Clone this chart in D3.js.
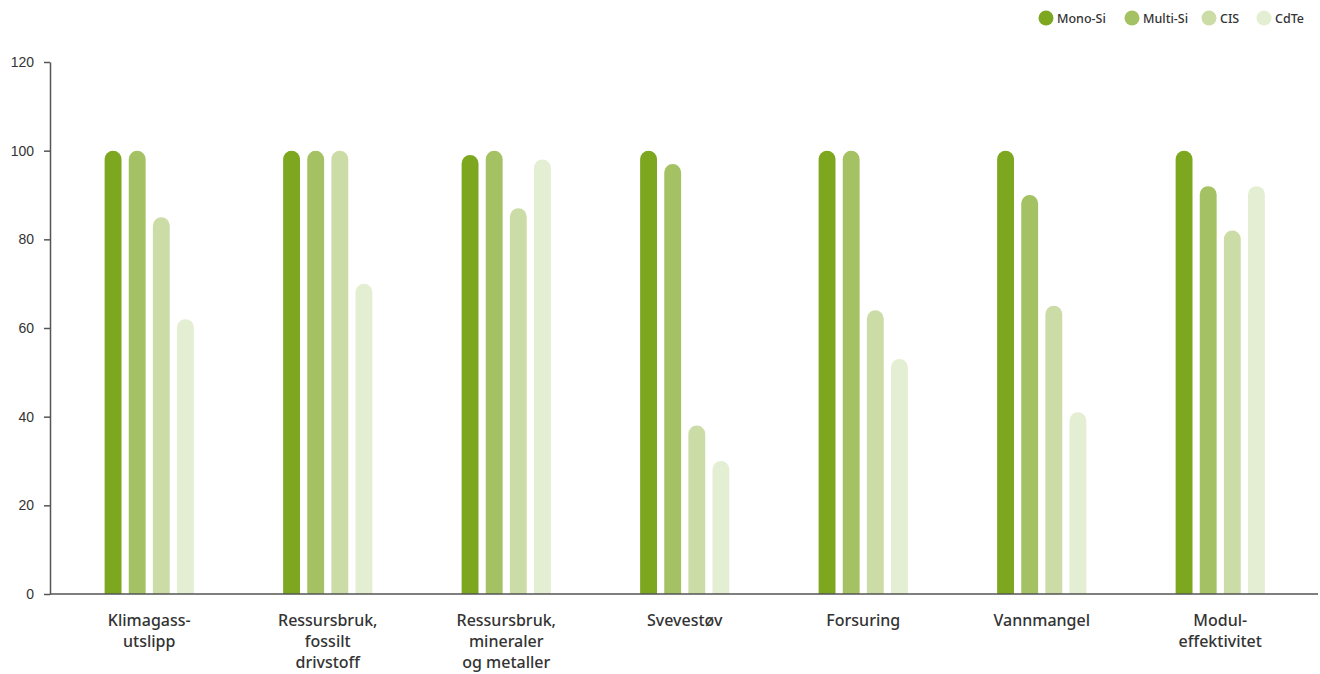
<!DOCTYPE html>
<html lang="no">
<head>
<meta charset="utf-8">
<title>Miljøpåvirkning solcelleteknologier</title>
<script src="https://cdn.jsdelivr.net/npm/d3@7"></script>
<style>
  body { margin: 0; background: #fff; }
  svg { font-family: "Noto Sans", "Open Sans", sans-serif; }
  .axis path, .axis line { stroke: #555; stroke-width: 1.5; }
  .axis text { fill: #333; font-size: 14px; font-weight: 500; }
  .cat { fill: #333; font-size: 16px; font-weight: 500; }
  .legend text { fill: #333; font-size: 12.5px; font-weight: 500; }
</style>
</head>
<body>
<script>
// data
var categories = [
  ["Klimagass-", "utslipp"],
  ["Ressursbruk,", "fossilt", "drivstoff"],
  ["Ressursbruk,", "mineraler", "og metaller"],
  ["Svevestøv"],
  ["Forsuring"],
  ["Vannmangel"],
  ["Modul-", "effektivitet"]
];
var series = ["Mono-Si", "Multi-Si", "CIS", "CdTe"];
var colors = ["#7ca71f", "#a4c263", "#ccdca6", "#e4eed3"];
var monoSi  = [100, 100, 99, 100, 100, 100, 100];
var multiSi = [100, 100, 100, 97, 100, 90, 92];
var cis     = [85, 100, 87, 38, 64, 65, 82];
var cdte    = [62, 70, 98, 30, 53, 41, 92];
var yTicks  = [0, 20, 40, 60, 80, 100, 120];

var values = [monoSi, multiSi, cis, cdte];
var w = 1320, h = 674;

var svg = d3.select("body").append("svg")
  .attr("width", w)
  .attr("height", h);

var catIdx = d3.range(categories.length);

var x0 = d3.scaleBand()
  .domain(catIdx)
  .range([60, 1309.5])
  .paddingInner(0.5)
  .paddingOuter(0.25);

var x1 = d3.scaleBand()
  .domain(series)
  .range([0, x0.bandwidth()])
  .paddingInner(0.3);

var y = d3.scaleLinear()
  .domain([0, 120])
  .range([594, 62]);

// bars with rounded tops
function barPath(x, top, bw, bottom) {
  var r = bw / 2;
  if (bottom - top < r) r = bottom - top;
  return "M" + x + "," + bottom +
    "V" + (top + r) +
    "A" + (bw / 2) + "," + r + " 0 0 1 " + (x + bw) + "," + (top + r) +
    "V" + bottom + "Z";
}

var groups = svg.selectAll("g.group")
  .data(catIdx)
  .enter()
  .append("g")
  .attr("class", "group")
  .attr("transform", function(i) { return "translate(" + x0(i) + ",0)"; });

groups.selectAll("path")
  .data(function(i) {
    return series.map(function(s, k) { return { s: s, k: k, v: values[k][i] }; });
  })
  .enter()
  .append("path")
  .attr("fill", function(d) { return colors[d.k]; })
  .attr("d", function(d) {
    return barPath(x1(d.s), y(d.v), x1.bandwidth(), y(0));
  });

// y axis
svg.append("g")
  .attr("class", "axis")
  .attr("transform", "translate(50,0)")
  .call(d3.axisLeft(y).tickValues(yTicks).tickSize(6).tickPadding(10).tickSizeOuter(0));

// x axis line
svg.append("line")
  .attr("x1", 50).attr("x2", 1318)
  .attr("y1", y(0)).attr("y2", y(0))
  .attr("stroke", "#555")
  .attr("stroke-width", 1.5);

// category labels
var labels = svg.selectAll("text.cat")
  .data(catIdx)
  .enter()
  .append("text")
  .attr("class", "cat")
  .attr("text-anchor", "middle")
  .attr("x", function(i) { return x0(i) + x0.bandwidth() / 2; })
  .attr("y", 626);

labels.selectAll("tspan")
  .data(function(i) { return categories[i]; })
  .enter()
  .append("tspan")
  .attr("x", function() { return d3.select(this.parentNode).attr("x"); })
  .attr("dy", function(d, j) { return j === 0 ? 0 : 21; })
  .text(function(d) { return d; });

// legend
var legendX = [1046, 1132, 1209, 1264];
var legend = svg.append("g").attr("class", "legend");
series.forEach(function(s, k) {
  legend.append("circle")
    .attr("cx", legendX[k])
    .attr("cy", 18)
    .attr("r", 7.5)
    .attr("fill", colors[k]);
  legend.append("text")
    .attr("x", legendX[k] + 11)
    .attr("y", 22.5)
    .text(s);
});
</script>
</body>
</html>
